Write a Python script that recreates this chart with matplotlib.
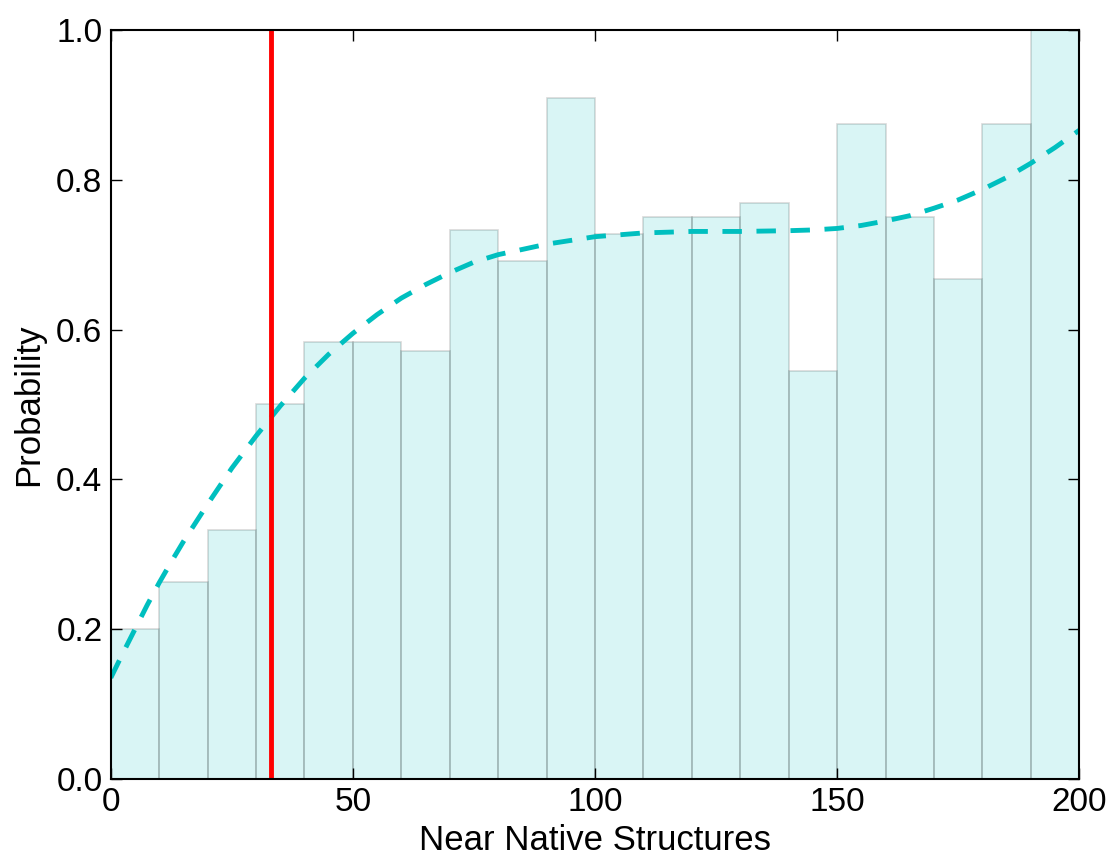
import matplotlib
matplotlib.use("Agg")
import matplotlib.pyplot as plt
import numpy as np

# histogram bin edges and per-bin probability
bin_left = [0, 10, 20, 30, 40, 50, 60, 70, 80, 90,
            100, 110, 120, 130, 140, 150, 160, 170, 180, 190]
probability = [0.2, 0.263, 0.333, 0.5, 0.583, 0.583, 0.571, 0.733, 0.692, 0.909,
               0.727, 0.75, 0.75, 0.769, 0.545, 0.875, 0.75, 0.667, 0.875, 1.0]

# fitted trend
fit_x = [0, 2.5, 5, 7.5, 10, 12.5, 15, 20, 25, 30, 35, 40, 45, 50, 55, 60, 65,
         70, 75, 80, 90, 100, 110, 120, 130, 140, 145, 150, 155, 160, 165, 170,
         175, 180, 185, 190, 195, 200]
fit_y = [0.135, 0.168, 0.200, 0.232, 0.262, 0.290, 0.317, 0.367, 0.415, 0.458,
         0.498, 0.535, 0.567, 0.595, 0.620, 0.642, 0.660, 0.676, 0.690, 0.700,
         0.714, 0.724, 0.729, 0.731, 0.731, 0.732, 0.733, 0.735, 0.739, 0.745,
         0.752, 0.762, 0.773, 0.787, 0.803, 0.822, 0.843, 0.866]

cutoff = 33

plt.rcParams['font.family'] = ['Liberation Sans', 'DejaVu Sans']

fig = plt.figure(figsize=(11.08, 8.56), dpi=100)
ax = fig.add_axes([0.100, 0.090, 0.874, 0.875])

ax.bar(bin_left, probability, width=10, align='edge', color='c', alpha=0.15,
       edgecolor='k', linewidth=1.2)
ax.plot(fit_x, fit_y, '--', color='c', linewidth=3.5, dashes=(4, 3))
ax.axvline(cutoff, color='red', linewidth=3.5)

ax.set_xlim(0, 200)
ax.set_ylim(0, 1.0)
ax.set_xticks([0, 50, 100, 150, 200])
ax.set_yticks([0.0, 0.2, 0.4, 0.6, 0.8, 1.0])
ax.set_yticklabels(['0.0', '0.2', '0.4', '0.6', '0.8', '1.0'])
ax.tick_params(direction='in', top=True, right=True, length=8, width=1,
               labelsize=24, pad=6)
for s in ax.spines.values():
    s.set_linewidth(1.5)

ax.set_xlabel('Near Native Structures', fontsize=25, labelpad=4)
ax.set_ylabel('Probability', fontsize=25, labelpad=8)

fig.savefig('out.png', dpi=100, facecolor='white')
